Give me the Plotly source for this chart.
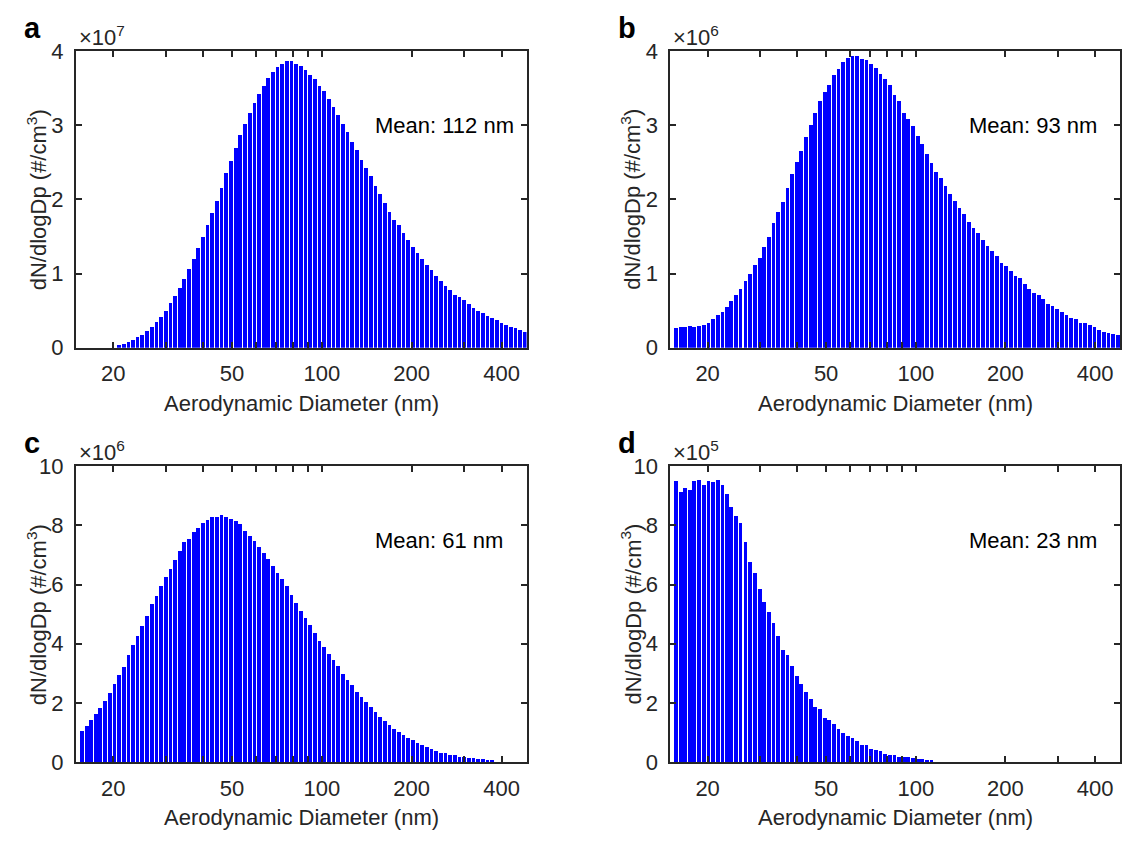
import math
import plotly.graph_objects as go

# ---------------- data ----------------
# channel mid-point diameters (nm), 64 channels per decade
diameters = [15.7, 16.3, 16.8, 17.5, 18.1, 18.8, 19.5, 20.2, 20.9, 21.7,
             22.5, 23.3, 24.1, 25.0, 25.9, 26.9, 27.9, 28.9, 30.0, 31.1,
             32.2, 33.4, 34.6, 35.9, 37.2, 38.5, 40.0, 41.4, 42.9, 44.5,
             46.1, 47.8, 49.6, 51.4, 53.3, 55.2, 57.3, 59.4, 61.5, 63.8,
             66.1, 68.5, 71.0, 73.7, 76.4, 79.1, 82.0, 85.1, 88.2, 91.4,
             94.7, 98.2, 101.8, 105.5, 109.4, 113.4, 117.6, 121.9, 126.3, 131.0,
             135.8, 140.7, 145.9, 151.2, 156.8, 162.5, 168.5, 174.7, 181.1, 187.7,
             194.6, 201.7, 209.1, 216.7, 224.7, 232.9, 241.4, 250.3, 259.5, 269.0,
             278.8, 289.0, 299.6, 310.6, 322.0, 333.8, 346.0, 358.7, 371.8, 385.4,
             399.5, 414.2, 429.4, 445.1, 461.4, 478.3]

# panel a, dN/dlogDp in units of 1e6 #/cm3
conc_a = [0, 0, 0, 0, 0, 0, 0, 0, 0.4, 0.55,
          0.8, 1.1, 1.45, 1.8, 2.3, 2.8, 3.5, 4.2, 5.0, 6.0,
          7.0, 8.1, 9.3, 10.6, 12.0, 13.5, 14.9, 16.6, 18.2, 19.8,
          21.6, 23.5, 25.2, 26.9, 28.7, 30.2, 31.7, 33.0, 34.2, 35.3,
          36.3, 37.2, 37.8, 38.3, 38.6, 38.6, 38.2, 38.0, 37.5, 36.8,
          36.2, 35.3, 34.6, 33.6, 32.4, 31.4, 30.2, 29.1, 27.8, 26.6,
          25.3, 24.2, 23.1, 21.8, 20.7, 19.5, 18.3, 17.3, 16.5, 15.5,
          14.5, 13.6, 12.8, 12.0, 11.2, 10.5, 9.7, 9.0, 8.4, 7.8,
          7.2, 6.8, 6.4, 5.9, 5.4, 5.0, 4.66, 4.3, 4.0, 3.7,
          3.4, 3.1, 2.8, 2.66, 2.44, 2.2]

# panel b, units of 1e6 #/cm3
conc_b = [0.272, 0.276, 0.285, 0.29, 0.276, 0.29, 0.316, 0.342, 0.386, 0.44,
          0.48, 0.55, 0.63, 0.715, 0.80, 0.90, 1.0, 1.12, 1.21, 1.36,
          1.50, 1.68, 1.83, 1.96, 2.15, 2.34, 2.51, 2.65, 2.84, 3.01,
          3.17, 3.32, 3.45, 3.54, 3.68, 3.76, 3.85, 3.90, 3.93, 3.93,
          3.89, 3.88, 3.82, 3.77, 3.69, 3.62, 3.54, 3.41, 3.32, 3.16,
          3.09, 2.99, 2.86, 2.75, 2.61, 2.49, 2.37, 2.29, 2.18, 2.08,
          1.98, 1.89, 1.81, 1.70, 1.62, 1.55, 1.46, 1.38, 1.31, 1.24,
          1.15, 1.10, 1.03, 0.97, 0.94, 0.855, 0.80, 0.745, 0.715, 0.66,
          0.59, 0.57, 0.53, 0.49, 0.45, 0.40, 0.386, 0.34, 0.33, 0.31,
          0.28, 0.24, 0.22, 0.20, 0.19, 0.175]

# panel c, units of 1e6 #/cm3
conc_c = [1.05, 1.21, 1.42, 1.62, 1.81, 2.05, 2.34, 2.63, 2.93, 3.21,
          3.61, 3.94, 4.26, 4.61, 4.94, 5.34, 5.61, 5.95, 6.25, 6.52,
          6.82, 7.12, 7.42, 7.53, 7.76, 7.89, 8.09, 8.17, 8.27, 8.28,
          8.33, 8.27, 8.22, 8.14, 8.03, 7.82, 7.65, 7.46, 7.28, 7.06,
          6.87, 6.63, 6.38, 6.17, 5.93, 5.63, 5.37, 5.09, 4.87, 4.64,
          4.37, 4.10, 3.88, 3.64, 3.43, 3.23, 2.96, 2.78, 2.59, 2.37,
          2.19, 2.02, 1.85, 1.69, 1.53, 1.37, 1.24, 1.13, 1.02, 0.92,
          0.81, 0.73, 0.65, 0.57, 0.50, 0.44, 0.38, 0.32, 0.29, 0.25,
          0.22, 0.18, 0.16, 0.14, 0.12, 0.10, 0.09, 0.08, 0.04, 0,
          0, 0, 0, 0, 0, 0]

# panel d, units of 1e5 #/cm3
conc_d = [9.51, 9.11, 9.27, 9.19, 9.51, 9.54, 9.36, 9.51, 9.47, 9.54,
          9.36, 9.06, 8.63, 8.32, 8.09, 7.42, 6.77, 6.38, 5.84, 5.41,
          5.07, 4.69, 4.26, 3.80, 3.61, 3.23, 2.89, 2.64, 2.35, 2.12,
          1.86, 1.80, 1.48, 1.42, 1.27, 1.11, 0.99, 0.88, 0.80, 0.70,
          0.58, 0.56, 0.45, 0.40, 0.36, 0.27, 0.23, 0.22, 0.18, 0.16,
          0.16, 0.14, 0.11, 0.11, 0.06, 0.04, 0, 0, 0, 0,
          0, 0, 0, 0, 0, 0, 0, 0, 0, 0,
          0, 0, 0, 0, 0, 0, 0, 0, 0, 0,
          0, 0, 0, 0, 0, 0, 0, 0, 0, 0,
          0, 0, 0, 0, 0, 0]

panel_letters = ["a", "b", "c", "d"]
mean_labels = ["Mean: 112 nm", "Mean: 93 nm", "Mean: 61 nm", "Mean: 23 nm"]
exponents = [7, 6, 6, 5]
scales = [1e6, 1e6, 1e6, 1e5]
y_maxes = [4, 4, 10, 10]
y_tick_labels = [["0", "1", "2", "3", "4"], ["0", "1", "2", "3", "4"],
                 ["0", "2", "4", "6", "8", "10"], ["0", "2", "4", "6", "8", "10"]]
x_tick_vals = [20, 50, 100, 200, 400]
x_tick_text = ["20", "50", "100", "200", "400"]
x_minor_vals = [30, 40, 60, 70, 80, 90, 300]
x_title = "Aerodynamic Diameter (nm)"
y_title = "dN/dlogDp (#/cm<sup>3</sup>)"

# ---------------- layout ----------------
W, H = 1122, 846
FONT = "Arial, Liberation Sans, Helvetica, sans-serif"
TXT = "#262626"
FS = 22

# pixel boxes of the four axes: (left, right, top, bottom)
boxes = [(76, 527, 40, 346), (671, 1121, 40, 346),
         (76, 527, 468, 773), (671, 1121, 468, 773)]

def px(x):
    return x / W

def py(y):
    return 1 - y / H

series = [conc_a, conc_b, conc_c, conc_d]
half = 0.4 / 64
widths = [d * (10 ** half - 10 ** (-half)) for d in diameters]

fig = go.Figure()
layout = dict(width=W, height=H, margin=dict(l=0, r=0, t=0, b=0),
              paper_bgcolor="white", plot_bgcolor="white", showlegend=False,
              bargap=0, font=dict(family=FONT, size=FS, color=TXT))
annotations = []

for i in range(4):
    sfx = "" if i == 0 else str(i + 1)
    L, R, T, B = boxes[i]
    yvals = [v * scales[i] for v in series[i]]
    fig.add_trace(go.Bar(x=diameters, y=yvals, width=widths,
                         marker=dict(color="#0000FF", line=dict(width=0)),
                         xaxis="x" + sfx, yaxis="y" + sfx))
    common = dict(ticks="inside", ticklen=6, tickwidth=2, tickcolor=TXT,
                  showline=True, linecolor=TXT, linewidth=2, mirror="ticks",
                  showgrid=False, zeroline=False,
                  tickfont=dict(family=FONT, size=FS, color=TXT))
    layout["xaxis" + sfx] = dict(
        type="log", range=[math.log10(15), math.log10(485)],
        domain=[px(L), px(R)], anchor="y" + sfx,
        tickmode="array", tickvals=x_tick_vals, ticktext=x_tick_text,
        minor=dict(tickmode="array", tickvals=x_minor_vals, ticks="inside",
                   ticklen=6, tickwidth=2, tickcolor=TXT),
        ticklabelstandoff=5, **common)
    unit = 10 ** exponents[i]
    nt = len(y_tick_labels[i])
    step = y_maxes[i] / (nt - 1)
    layout["yaxis" + sfx] = dict(
        range=[0, y_maxes[i] * unit], domain=[py(B), py(T)], anchor="x" + sfx,
        tickmode="array", tickvals=[k * step * unit for k in range(nt)],
        ticktext=y_tick_labels[i], ticklabelstandoff=6, **common)

    # panel letter
    annotations.append(dict(text="<b>%s</b>" % panel_letters[i], xref="paper", yref="paper",
                            x=px(L - 54), y=py(T - 5), xanchor="left", yanchor="bottom",
                            showarrow=False, font=dict(family=FONT, size=29, color="black")))
    # exponent label
    annotations.append(dict(text="×10<sup>%d</sup>" % exponents[i], xref="paper", yref="paper",
                            x=px(L + 1), y=py(T + 1), xanchor="left", yanchor="bottom",
                            showarrow=False, font=dict(family=FONT, size=FS, color=TXT)))
    # mean label
    annotations.append(dict(text=mean_labels[i], xref="x%s domain" % sfx, yref="y%s domain" % sfx,
                            x=0.66, y=0.75, xanchor="left", yanchor="middle",
                            showarrow=False, font=dict(family=FONT, size=FS, color="black")))
    # axis titles
    annotations.append(dict(text=x_title, xref="paper", yref="paper",
                            x=px((L + R) / 2), y=py(B + 57), xanchor="center", yanchor="middle",
                            showarrow=False, font=dict(family=FONT, size=FS, color=TXT)))
    annotations.append(dict(text=y_title, xref="paper", yref="paper", textangle=-90,
                            x=px(L - 39), y=py((T + B) / 2), xanchor="center", yanchor="middle",
                            showarrow=False, font=dict(family=FONT, size=FS, color=TXT)))

layout["annotations"] = annotations
fig.update_layout(**layout)
fig.write_html("out.html")
